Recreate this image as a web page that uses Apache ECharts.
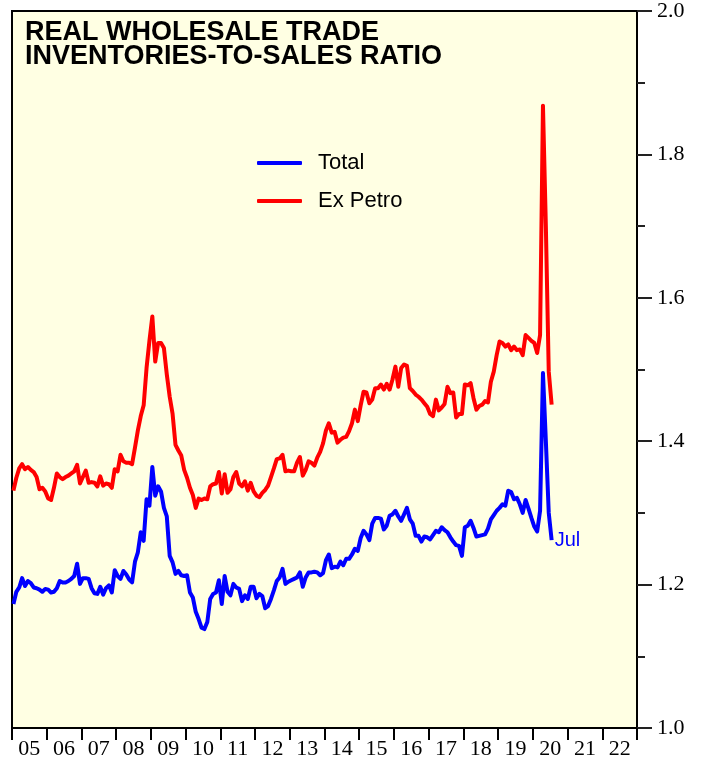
<!DOCTYPE html>
<html lang="en">
<head>
    <meta charset="UTF-8">
    <title>Real Wholesale Trade Inventories-to-Sales Ratio</title>
    <style>
        html, body { margin: 0; padding: 0; background: #fff; }
        #main { width: 701px; height: 761px; }
    </style>
</head>
<body>

<div id="main"></div>

<script type="text/javascript" src="https://cdn.jsdelivr.net/npm/echarts@6/dist/echarts.min.js"></script>
<script type="text/javascript">

    // year labels under the axis (centred in each year)
    var yearLabels = ['05', '06', '07', '08', '09', '10', '11', '12', '13',
                      '14', '15', '16', '17', '18', '19', '20', '21', '22'];
    var firstYear = 2005;
    var lastMonthLabel = 'Jul';

    // monthly ratio, Jan 2005 .. Jul 2020, one row per year
    var totalRatio = [
        1.173, 1.190, 1.196, 1.209, 1.198, 1.205, 1.202, 1.196, 1.195, 1.193, 1.190, 1.194,
        1.193, 1.189, 1.190, 1.195, 1.205, 1.203, 1.203, 1.205, 1.208, 1.212, 1.229, 1.201,
        1.209, 1.209, 1.208, 1.195, 1.188, 1.187, 1.197, 1.186, 1.195, 1.199, 1.189, 1.220,
        1.212, 1.208, 1.219, 1.214, 1.207, 1.203, 1.232, 1.245, 1.273, 1.261, 1.319, 1.310,
        1.364, 1.324, 1.337, 1.330, 1.307, 1.295, 1.240, 1.231, 1.215, 1.219, 1.213, 1.212,
        1.213, 1.189, 1.182, 1.162, 1.152, 1.140, 1.138, 1.148, 1.180, 1.187, 1.189, 1.206,
        1.173, 1.212, 1.190, 1.185, 1.201, 1.196, 1.194, 1.177, 1.185, 1.180, 1.197, 1.197,
        1.181, 1.187, 1.184, 1.167, 1.170, 1.180, 1.192, 1.205, 1.210, 1.222, 1.201, 1.204,
        1.206, 1.208, 1.210, 1.217, 1.197, 1.210, 1.217, 1.217, 1.218, 1.217, 1.213, 1.216,
        1.234, 1.242, 1.223, 1.225, 1.224, 1.232, 1.227, 1.236, 1.236, 1.242, 1.250, 1.247,
        1.265, 1.275, 1.270, 1.262, 1.285, 1.293, 1.293, 1.292, 1.277, 1.282, 1.296, 1.298,
        1.303, 1.295, 1.289, 1.298, 1.307, 1.291, 1.285, 1.268, 1.268, 1.260, 1.267, 1.266,
        1.263, 1.269, 1.275, 1.273, 1.280, 1.276, 1.273, 1.266, 1.260, 1.255, 1.254, 1.240,
        1.280, 1.282, 1.289, 1.279, 1.267, 1.268, 1.269, 1.270, 1.278, 1.291, 1.297, 1.303,
        1.307, 1.312, 1.310, 1.331, 1.329, 1.319, 1.321, 1.312, 1.300, 1.318, 1.306, 1.293,
        1.281, 1.274, 1.303, 1.495, 1.400, 1.300, 1.262
    ];

    var exPetroRatio = [
        1.331, 1.349, 1.362, 1.368, 1.361, 1.364, 1.360, 1.357, 1.350, 1.333, 1.335, 1.330,
        1.320, 1.318, 1.335, 1.355, 1.350, 1.347, 1.350, 1.352, 1.355, 1.358, 1.367, 1.341,
        1.350, 1.359, 1.342, 1.343, 1.342, 1.337, 1.351, 1.338, 1.341, 1.340, 1.335, 1.361,
        1.358, 1.381, 1.372, 1.370, 1.370, 1.368, 1.391, 1.415, 1.435, 1.450, 1.502, 1.540,
        1.574, 1.511, 1.537, 1.537, 1.530, 1.493, 1.462, 1.438, 1.395, 1.387, 1.380, 1.360,
        1.349, 1.335, 1.325, 1.307, 1.320, 1.318, 1.320, 1.319, 1.337, 1.340, 1.341, 1.357,
        1.327, 1.354, 1.328, 1.333, 1.350, 1.357, 1.341, 1.337, 1.344, 1.331, 1.342, 1.330,
        1.324, 1.322, 1.328, 1.332, 1.338, 1.350, 1.362, 1.375, 1.376, 1.381, 1.358, 1.359,
        1.358, 1.358, 1.370, 1.378, 1.352, 1.360, 1.372, 1.370, 1.366, 1.377, 1.385, 1.397,
        1.415, 1.425, 1.412, 1.413, 1.398, 1.402, 1.405, 1.406, 1.414, 1.425, 1.444, 1.428,
        1.450, 1.469, 1.468, 1.453, 1.458, 1.474, 1.474, 1.479, 1.472, 1.480, 1.472, 1.486,
        1.504, 1.476, 1.502, 1.507, 1.505, 1.474, 1.470, 1.465, 1.462, 1.458, 1.453, 1.448,
        1.438, 1.435, 1.458, 1.443, 1.447, 1.452, 1.476, 1.467, 1.468, 1.433, 1.438, 1.438,
        1.479, 1.478, 1.481, 1.460, 1.444, 1.449, 1.451, 1.456, 1.454, 1.483, 1.497, 1.520,
        1.539, 1.537, 1.532, 1.535, 1.527, 1.532, 1.527, 1.528, 1.520, 1.548, 1.544, 1.540,
        1.537, 1.523, 1.548, 1.868, 1.700, 1.497, 1.451
    ];

    // month i is plotted in the middle of its month
    function toPoints(values) {
        return values.map(function (v, i) {
            return [firstYear + (i + 0.5) / 12, v];
        });
    }

    var chart = echarts.init(document.getElementById('main'));

    chart.setOption({
        animation: false,
        backgroundColor: '#fff',
        title: {
            text: 'REAL WHOLESALE TRADE\nINVENTORIES-TO-SALES RATIO',
            left: 20,
            top: 16,
            textStyle: {
                fontFamily: 'Liberation Sans',
                fontWeight: 'bold',
                fontSize: 27,
                lineHeight: 24,
                color: '#000'
            }
        },
        legend: {
            orient: 'vertical',
            left: 252,
            top: 147,
            itemWidth: 45,
            itemHeight: 4,
            itemGap: 16,
            icon: 'roundRect',
            textStyle: {
                fontFamily: 'Liberation Sans',
                fontSize: 22,
                color: '#000',
                padding: [0, 0, 0, 11]
            },
            data: ['Total', 'Ex Petro']
        },
        grid: {
            left: 12,
            right: 64,
            top: 8,
            bottom: 33,
            show: true,
            backgroundColor: '#FFFFE3',
            borderColor: '#000',
            borderWidth: 2
        },
        xAxis: [{
            type: 'category',
            data: yearLabels,
            boundaryGap: true,
            axisLine: { show: true, lineStyle: { color: '#000', width: 2 } },
            axisTick: { show: true, interval: 0, alignWithLabel: false, length: 12, lineStyle: { color: '#000', width: 2 } },
            axisLabel: {
                interval: 0,
                margin: 10,
                fontFamily: 'Liberation Serif',
                fontSize: 22,
                color: '#000'
            },
            splitLine: { show: false }
        }, {
            type: 'value',
            min: firstYear,
            max: firstYear + yearLabels.length,
            show: false
        }],
        yAxis: {
            type: 'value',
            position: 'right',
            min: 1.0,
            max: 2.0,
            interval: 0.2,
            axisLine: { show: true, lineStyle: { color: '#000', width: 2 } },
            axisTick: { show: true, length: 15, lineStyle: { color: '#222', width: 2 } },
            minorTick: { show: true, splitNumber: 2, length: 8, lineStyle: { color: '#222', width: 2 } },
            axisLabel: {
                margin: 20,
                fontFamily: 'Liberation Serif',
                fontSize: 22,
                color: '#000',
                formatter: function (v) { return v.toFixed(1); }
            },
            splitLine: { show: false }
        },
        series: [{
            name: 'Total',
            type: 'line',
            xAxisIndex: 1,
            data: toPoints(totalRatio),
            showSymbol: false,
            symbol: 'none',
            color: '#0000FF',
            lineStyle: { width: 4, color: '#0000FF', join: 'round' },
            endLabel: {
                show: true,
                formatter: lastMonthLabel,
                distance: 3,
                fontFamily: 'Liberation Sans',
                fontSize: 20,
                color: '#0000FF'
            }
        }, {
            name: 'Ex Petro',
            type: 'line',
            xAxisIndex: 1,
            data: toPoints(exPetroRatio),
            showSymbol: false,
            symbol: 'none',
            color: '#FF0000',
            lineStyle: { width: 4, color: '#FF0000', join: 'round' }
        }]
    });

</script>

</body>
</html>
